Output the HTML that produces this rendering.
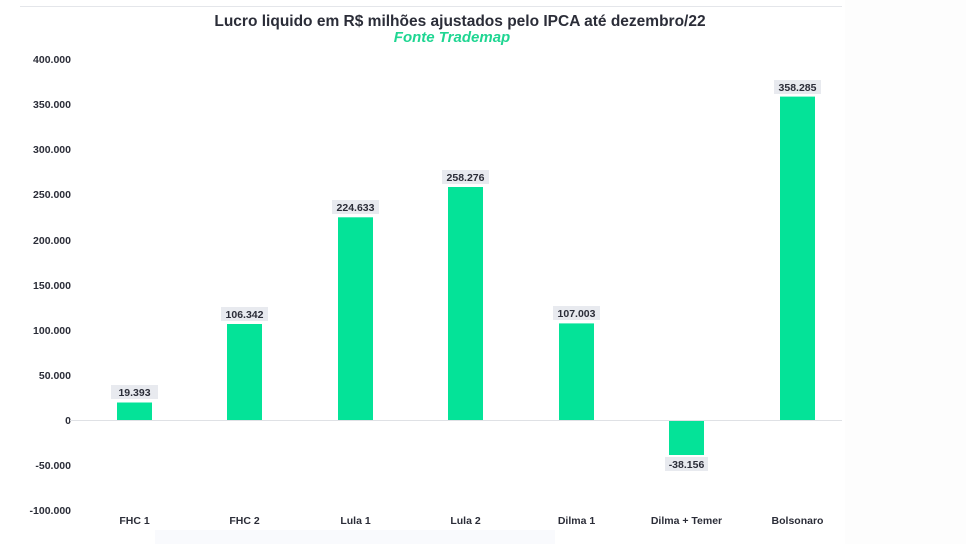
<!DOCTYPE html>
<html><head><meta charset="utf-8"><style>
html,body{margin:0;padding:0;background:#fff;}
svg{display:block;font-family:"Liberation Sans",sans-serif;}
</style></head><body>
<svg width="966" height="544" viewBox="0 0 966 544" xmlns="http://www.w3.org/2000/svg">
<rect width="966" height="544" fill="#fff"/>
<rect x="845" y="0" width="121" height="544" fill="#fdfdfd"/>
<line x1="20" y1="6.5" x2="842" y2="6.5" stroke="#e4e6ea" stroke-width="1"/>
<text x="460" y="26" text-anchor="middle" font-size="15.5" font-weight="bold" fill="#2b2d38">Lucro liquido em R$ milhões ajustados pelo IPCA até dezembro/22</text>
<text x="452" y="42" text-anchor="middle" font-size="15" font-weight="bold" font-style="italic" fill="#1fd692">Fonte Trademap</text>
<g font-size="10.5" font-weight="bold" fill="#2b2d38" text-anchor="end">
<text x="71" y="63">400.000</text>
<text x="71" y="108">350.000</text>
<text x="71" y="153">300.000</text>
<text x="71" y="198">250.000</text>
<text x="71" y="244">200.000</text>
<text x="71" y="289">150.000</text>
<text x="71" y="334">100.000</text>
<text x="71" y="379">50.000</text>
<text x="71" y="424">0</text>
<text x="71" y="469">-50.000</text>
<text x="71" y="514">-100.000</text>
</g>
<line x1="70" y1="420.5" x2="842" y2="420.5" stroke="#dfe1e5" stroke-width="1"/>
<g fill="#04e398">
<rect x="117" y="402.5" width="35" height="17.5"/>
<rect x="227" y="324" width="35" height="96"/>
<rect x="338" y="217.3" width="35" height="202.7"/>
<rect x="448" y="187" width="35" height="233"/>
<rect x="559" y="323.4" width="35" height="96.6"/>
<rect x="669" y="421" width="35" height="34"/>
<rect x="780" y="96.6" width="35" height="323.4"/>
</g>
<g fill="#e8eaef">
<rect x="111" y="385" width="47" height="14"/>
<rect x="221" y="307" width="47" height="14"/>
<rect x="332" y="200" width="47" height="14"/>
<rect x="442" y="170" width="47" height="14"/>
<rect x="553" y="306" width="47" height="14"/>
<rect x="665" y="457" width="43" height="14"/>
<rect x="774" y="80" width="47" height="14"/>
</g>
<g font-size="10.5" font-weight="bold" fill="#2b2d38" text-anchor="middle">
<text x="134.5" y="396">19.393</text>
<text x="244.5" y="318">106.342</text>
<text x="355.5" y="211">224.633</text>
<text x="465.5" y="181">258.276</text>
<text x="576.5" y="317">107.003</text>
<text x="686.5" y="468">-38.156</text>
<text x="797.5" y="91">358.285</text>
</g>
<g font-size="10.5" font-weight="bold" fill="#2b2d38" text-anchor="middle">
<text x="134.5" y="524">FHC 1</text>
<text x="244.5" y="524">FHC 2</text>
<text x="355.5" y="524">Lula 1</text>
<text x="465.5" y="524">Lula 2</text>
<text x="576.5" y="524">Dilma 1</text>
<text x="686.5" y="524">Dilma + Temer</text>
<text x="797.5" y="524">Bolsonaro</text>
</g>
<rect x="155" y="530" width="400" height="14" fill="#f9fafd"/>
</svg>
</body></html>
